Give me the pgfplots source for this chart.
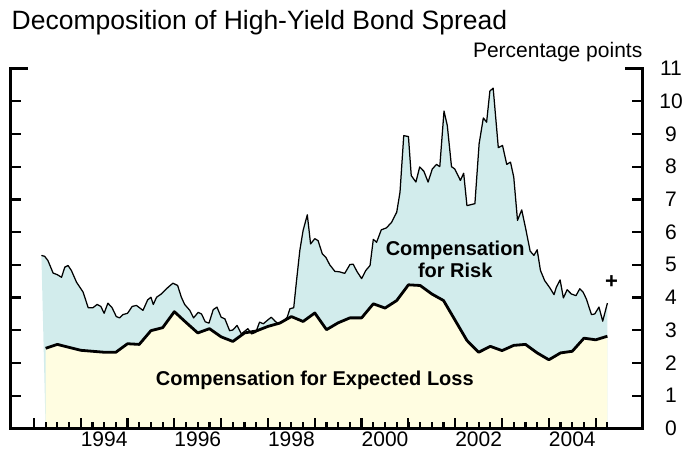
\documentclass[border=0pt]{standalone}
\usepackage{pgfplots}
\usepackage{pgfplotstable}
\pgfplotsset{compat=1.18}
\usepackage{fontspec}
\setmainfont{Liberation Sans}
\definecolor{riskfill}{RGB}{210,236,236}
\definecolor{lossfill}{RGB}{255,253,225}

\pgfplotstableread{
x y
1993.16 5.29
1993.23 5.26
1993.30 5.13
1993.41 4.75
1993.50 4.70
1993.59 4.62
1993.66 4.93
1993.73 4.98
1993.80 4.83
1993.91 4.47
1994.05 4.17
1994.16 3.69
1994.26 3.69
1994.35 3.79
1994.43 3.73
1994.50 3.52
1994.58 3.83
1994.67 3.69
1994.76 3.42
1994.83 3.38
1994.90 3.48
1995.00 3.52
1995.10 3.73
1995.19 3.76
1995.33 3.61
1995.43 3.93
1995.50 4.01
1995.55 3.79
1995.62 4.01
1995.72 4.11
1995.87 4.32
1995.97 4.44
1996.07 4.37
1996.15 4.01
1996.22 3.79
1996.33 3.61
1996.41 3.38
1996.51 3.55
1996.58 3.50
1996.66 3.26
1996.74 3.22
1996.83 3.63
1996.91 3.71
1997.00 3.40
1997.08 3.35
1997.18 2.99
1997.25 3.01
1997.34 3.15
1997.43 2.89
1997.57 3.05
1997.65 2.89
1997.74 2.94
1997.82 3.25
1997.90 3.20
1998.00 3.32
1998.07 3.40
1998.15 3.28
1998.22 3.20
1998.31 3.25
1998.41 3.40
1998.47 3.66
1998.55 3.69
1998.61 4.52
1998.68 5.44
1998.75 6.05
1998.84 6.53
1998.91 5.64
1999.00 5.80
1999.07 5.74
1999.16 5.34
1999.24 5.22
1999.32 5.00
1999.43 4.80
1999.52 4.79
1999.64 4.74
1999.75 5.01
1999.82 5.02
1999.90 4.80
2000.00 4.58
2000.09 4.83
2000.18 4.98
2000.25 5.78
2000.32 5.69
2000.42 6.07
2000.53 6.13
2000.64 6.30
2000.75 6.61
2000.82 7.22
2000.90 8.95
2001.00 8.92
2001.06 7.73
2001.16 7.53
2001.24 7.99
2001.33 7.86
2001.42 7.53
2001.51 7.93
2001.60 8.07
2001.67 8.00
2001.76 9.70
2001.83 9.26
2001.92 8.00
2001.99 7.93
2002.11 7.58
2002.18 7.80
2002.25 6.81
2002.42 6.87
2002.51 8.70
2002.60 9.49
2002.67 9.36
2002.74 10.31
2002.81 10.40
2002.92 8.58
2003.01 8.65
2003.10 8.07
2003.18 8.14
2003.25 7.68
2003.33 6.36
2003.42 6.68
2003.51 6.07
2003.60 5.42
2003.68 5.29
2003.75 5.46
2003.82 4.83
2003.91 4.52
2004.02 4.30
2004.11 4.09
2004.16 4.32
2004.24 4.54
2004.31 3.99
2004.39 4.24
2004.48 4.11
2004.58 4.06
2004.66 4.27
2004.73 4.17
2004.80 3.96
2004.91 3.48
2004.98 3.50
2005.07 3.71
2005.15 3.28
2005.25 3.83
}\spreaddata

\pgfplotstableread{
x y
1993.25 2.45
1993.50 2.57
1993.75 2.48
1994.00 2.39
1994.25 2.36
1994.50 2.33
1994.75 2.33
1995.00 2.59
1995.25 2.57
1995.50 2.99
1995.75 3.08
1996.00 3.57
1996.25 3.24
1996.50 2.92
1996.75 3.05
1997.00 2.80
1997.25 2.66
1997.50 2.92
1997.75 2.98
1998.00 3.12
1998.25 3.22
1998.50 3.42
1998.75 3.27
1999.00 3.53
1999.25 3.02
1999.50 3.23
1999.75 3.38
2000.00 3.38
2000.25 3.81
2000.50 3.68
2000.75 3.91
2001.00 4.39
2001.25 4.37
2001.50 4.11
2001.75 3.91
2002.00 3.30
2002.25 2.69
2002.50 2.33
2002.75 2.51
2003.00 2.38
2003.25 2.54
2003.50 2.57
2003.75 2.31
2004.00 2.10
2004.25 2.31
2004.50 2.36
2004.75 2.76
2005.00 2.71
2005.25 2.82
}\lossdata

\begin{document}
\begin{tikzpicture}
\path[use as bounding box] (-10.5bp,-23.5bp) rectangle (675.5bp,428.5bp);
\begin{axis}[
  scale only axis,
  width=632bp, height=360bp,
  xmin=1992.5, xmax=2006.0,
  ymin=0, ymax=11,
  axis on top,
  axis x line*=bottom,
  axis y line*=right,
  axis line style={line width=3.7bp, line cap=rect},
  every tick/.style={black, line width=2.2bp},
  tick align=inside,
  xtick={1993,1994,...,2005},
  xticklabels={},
  minor xtick={1993,1993.25,...,2005.3},
  major tick length=10.5bp,
  minor tick length=6bp,
  extra x ticks={1994.5,1996.5,1998.5,2000.5,2002.5,2004.5},
  extra x tick labels={1994,1996,1998,2000,2002,2004},
  extra x tick style={major tick length=0pt},
  ytick={0,1,...,11},
  extra y ticks={11},
  extra y tick labels={},
  extra y tick style={major tick length=18bp},
  /pgf/number format/assume math mode=true,
  tick label style={font=\fontsize{21bp}{25bp}\selectfont},
  yticklabel style={anchor=center, xshift=28.5bp},
  xticklabel style={anchor=north, yshift=0.5bp},
]
\addplot[fill=riskfill, draw=none] table[x=x,y=y]{\spreaddata} -- (axis cs:2005.25,0) -- (axis cs:1993.25,0) -- cycle;
\addplot[fill=lossfill, draw=none] table[x=x,y=y]{\lossdata} \closedcycle;
\addplot[black, line width=1.25bp, line join=round, no markers] table[x=x,y=y]{\spreaddata};
\addplot[black, line width=2.8bp, line join=round, no markers] table[x=x,y=y]{\lossdata};
\node[font=\bfseries\fontsize{20bp}{24bp}\selectfont, anchor=base, inner sep=0] at (axis cs:2002.0,5.30) {Compensation};
\node[font=\bfseries\fontsize{20bp}{24bp}\selectfont, anchor=base, inner sep=0] at (axis cs:2002.0,4.60) {for Risk};
\node[font=\bfseries\fontsize{20bp}{24bp}\selectfont, anchor=base, inner sep=0] at (axis cs:1999.0,1.30) {Compensation for Expected Loss};
\node[font=\bfseries\fontsize{22bp}{24bp}\selectfont, inner sep=0] at (axis cs:2005.34,4.49) {+};
\end{axis}
\begin{axis}[
  scale only axis,
  width=632bp, height=360bp,
  xmin=1992.5, xmax=2006.0,
  ymin=0, ymax=11,
  axis y line*=left,
  axis x line=none,
  axis line style={line width=3.7bp, line cap=rect},
  every tick/.style={black, line width=2.2bp},
  tick align=inside,
  ytick={0,1,...,11},
  yticklabels={},
  major tick length=10.5bp,
  extra y ticks={11},
  extra y tick labels={},
  extra y tick style={major tick length=18bp},
]
\end{axis}
\node[anchor=base west, inner sep=0, font=\fontsize{26.5bp}{31bp}\selectfont] at (1bp,398.5bp) {Decomposition of High-Yield Bond Spread};
\node[anchor=base east, inner sep=0, font=\fontsize{21bp}{25bp}\selectfont] at (632bp,370.5bp) {Percentage points};
\end{tikzpicture}
\end{document}
